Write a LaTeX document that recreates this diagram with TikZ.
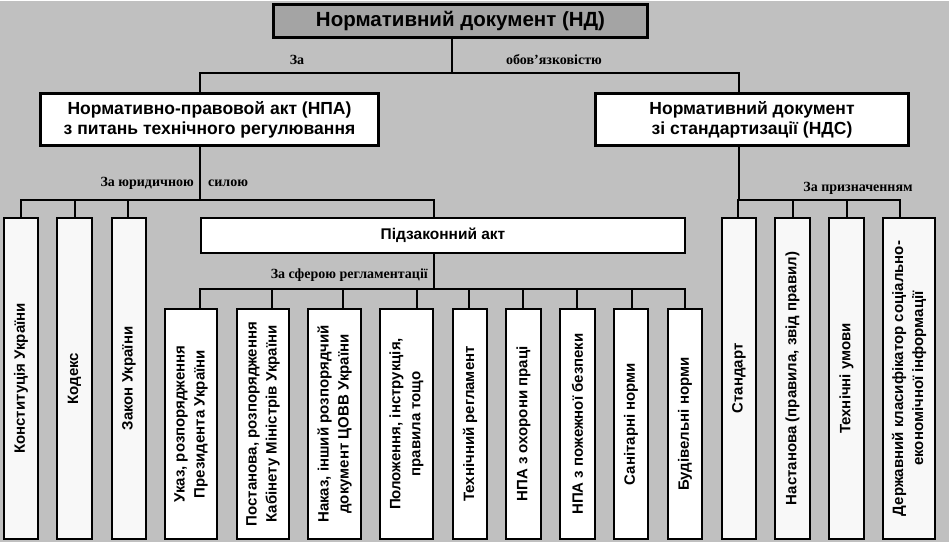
\documentclass[tikz,border=0pt]{standalone}
\usepackage{fontspec}
\setmainfont{Liberation Sans}
\newfontfamily\lblfont{Liberation Serif}
\definecolor{bggray}{HTML}{C0C0C0}
\definecolor{topgray}{HTML}{A4A4A4}
\definecolor{offw}{HTML}{F8F8F8}
\tikzset{
  bx/.style={draw=black, line width=2.6pt, inner sep=2pt, align=center},
  hb/.style={bx, font=\bfseries\fontsize{17.5}{20}\selectfont},
  vb/.style={bx, rotate=90, font=\bfseries\fontsize{15}{20}\selectfont},
  vbA/.style={vb, fill=offw, minimum width=321},
  vbB/.style={vb, fill=white, minimum width=230},
  conn/.style={line width=2.6pt, line cap=rect},
  lbl/.style={font=\lblfont\bfseries\fontsize{14}{16}\selectfont, inner sep=0pt},
}
\begin{document}
\begin{tikzpicture}[x=1pt,y=-1pt]
\fill[white] (0,0) rectangle (951,544);
\fill[bggray] (0,1) rectangle (949,542);
\useasboundingbox (0,0) rectangle (951,544);

% top level
\node[hb, fill=topgray, minimum width=374, minimum height=33, font=\bfseries\fontsize{20.5}{23}\selectfont] (nd) at (460.5,21) {Нормативний документ (НД)};
\node[hb, fill=white, minimum width=338, minimum height=52] (npa) at (209.5,119.5) {Нормативно-правовой акт (НПА)\\з питань технічного регулювання};
\node[hb, fill=white, minimum width=313, minimum height=52] (nds) at (752,119.5) {Нормативний документ\\зі стандартизації (НДС)};

\coordinate (b0) at (452,73);
\coordinate (b1) at (200,73);
\coordinate (b2) at (739,73);
\draw[conn] (nd.south -| b0) -- (b0);
\draw[conn] (npa.north -| b1) |- (b2) -- (b2 |- nds.north);
\node[lbl] (l1) at (297,60) {За};
\node[lbl] (l2) at (554,60) {обов’язковістю};

% legal force
\node[vbA, minimum height=34] (konst) at (21,378.5) {Конституція України};
\node[vbA, minimum height=35] (kod) at (74.5,378.5) {Кодекс};
\node[vbA, minimum height=34] (zakon) at (129,378.5) {Закон України};
\node[bx, fill=white, minimum width=484, minimum height=35, font=\bfseries\fontsize{15.5}{18}\selectfont] (pidz) at (443,235.5) {Підзаконний акт};

\coordinate (c0) at (200,200);
\coordinate (c1) at (21,200);
\coordinate (c2) at (75,200);
\coordinate (c3) at (128,200);
\coordinate (c4) at (434,200);
\draw[conn] (npa.south -| c0) -- (c0);
\draw[conn] (c1 |- konst.east) |- (c4) -- (c4 |- pidz.north);
\draw[conn] (c2) -- (c2 |- kod.east);
\draw[conn] (c3) -- (c3 |- zakon.east);
\node[lbl, anchor=east] (l3) at (194,183) {За юридичною};
\node[lbl, anchor=west] (l4) at (208,183) {силою};

% sphere of regulation
\node[vbB, minimum height=52] (ukaz) at (191,424) {Указ, розпорядження\\Президента України};
\node[vbB, minimum height=52] (post) at (263,424) {Постанова, розпорядження\\Кабінету Міністрів України};
\node[vbB, minimum height=53] (nakaz) at (334.5,424) {Наказ, інший розпорядчий\\документ ЦОВВ України};
\node[vbB, minimum height=53] (polozh) at (406.5,424) {Положення, інструкція,\\правила тощо};
\node[vbB, minimum height=34] (tehreg) at (470,424) {Технічний регламент};
\node[vbB, minimum height=35] (ohor) at (523.5,424) {НПА з охорони праці};
\node[vbB, minimum height=35] (pozh) at (577.5,424) {НПА з пожежної безпеки};
\node[vbB, minimum height=34] (sanit) at (631,424) {Санітарні норми};
\node[vbB, minimum height=34] (budiv) at (685,424) {Будівельні норми};

\coordinate (s0) at (434,289);
\coordinate (s1) at (200,289);
\coordinate (s2) at (272,289);
\coordinate (s3) at (343,289);
\coordinate (s4) at (417,289);
\coordinate (s5) at (469,289);
\coordinate (s6) at (523,289);
\coordinate (s7) at (577,289);
\coordinate (s8) at (632,289);
\coordinate (s9) at (685,289);
\draw[conn] (pidz.south -| s0) -- (s0);
\draw[conn] (s1 |- ukaz.east) |- (s9) -- (s9 |- budiv.east);
\draw[conn] (s2) -- (s2 |- post.east);
\draw[conn] (s3) -- (s3 |- nakaz.east);
\draw[conn] (s4) -- (s4 |- polozh.east);
\draw[conn] (s5) -- (s5 |- tehreg.east);
\draw[conn] (s6) -- (s6 |- ohor.east);
\draw[conn] (s7) -- (s7 |- pozh.east);
\draw[conn] (s8) -- (s8 |- sanit.east);
\node[lbl, anchor=east] (l5) at (428,275) {За сферою регламентації};

% purpose
\node[vbA, minimum height=34] (stand) at (739,378.5) {Стандарт};
\node[vbA, minimum height=35] (nast) at (792.5,378.5) {Настанова (правила, звід правил)};
\node[vbA, minimum height=35] (tehum) at (846.5,378.5) {Технічні умови};
\node[vbA, minimum height=52] (derzh) at (909,378.5) {Державний класифікатор соціально-\\економічної інформації};

\coordinate (p0) at (739,200);
\coordinate (p1) at (738,200);
\coordinate (p2) at (793,200);
\coordinate (p3) at (847,200);
\coordinate (p4) at (900,200);
\draw[conn] (nds.south -| p0) -- (p0);
\draw[conn] (p1 |- stand.east) |- (p4) -- (p4 |- derzh.east);
\draw[conn] (p2) -- (p2 |- nast.east);
\draw[conn] (p3) -- (p3 |- tehum.east);
\node[lbl] (l6) at (858,188) {За призначенням};
\end{tikzpicture}
\end{document}
